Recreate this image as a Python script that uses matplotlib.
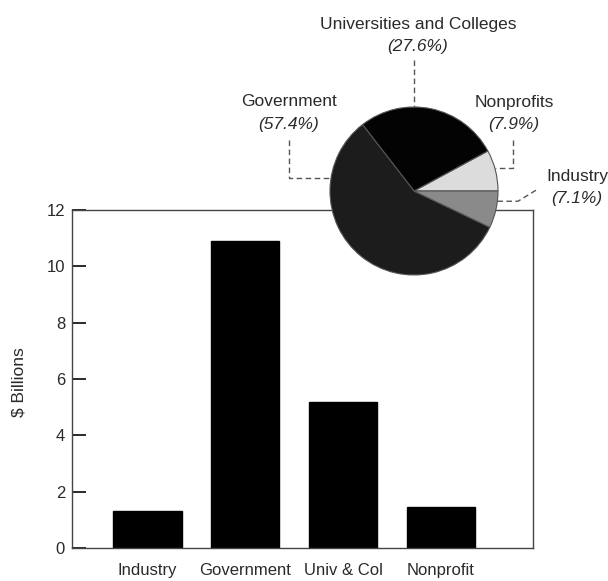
import matplotlib.pyplot as plt
import numpy as np

plt.rcParams["font.family"] = ["Liberation Sans", "DejaVu Sans"]

# R&D spending by performer ($ billions)
sectors = ["Industry", "Government", "Univ & Col", "Nonprofit"]
spending = [1.3, 10.9, 5.2, 1.45]

# share of the total, drawn counter-clockwise from 3 o'clock
pie_names = ["Nonprofits", "Universities and Colleges", "Government", "Industry"]
pie_shares = [7.9, 27.6, 57.4, 7.1]
pie_colors = ["#dcdcdc", "#030303", "#1c1c1c", "#8a8a8a"]

W, H = 608, 581
fig = plt.figure(figsize=(W / 100, H / 100), dpi=100)
ink = "#2a2a2a"

# --- bar chart ---
ax = fig.add_axes([72 / W, 1 - 548 / H, (533 - 72) / W, (548 - 210) / H])
x = np.arange(len(sectors))
ax.bar(x, spending, width=0.70, color="black", edgecolor="black")
ax.set_xlim(-0.77, 3.94)
ax.set_ylim(0, 12)
ax.set_yticks(range(0, 13, 2))
ax.set_xticks(x)
ax.set_xticklabels(sectors, fontsize=12, color=ink)
ax.tick_params(axis="x", length=0, pad=11)
ax.tick_params(axis="y", direction="in", length=10, width=1.4,
               pad=5, labelsize=12, labelcolor=ink, color=ink)
for s in ax.spines.values():
    s.set_color("#444444")
    s.set_linewidth(1.0)
ax.set_ylabel("$ Billions", fontsize=12.5, color=ink)
ax.yaxis.set_label_coords(-0.098, 0.49)

# --- pie overlay, in pixel coordinates ---
ov = fig.add_axes([0, 0, 1, 1], zorder=5)
ov.patch.set_alpha(0)

cx, cy, r = 414, H - 191, 84
ov.pie(pie_shares, colors=pie_colors, startangle=0, counterclock=True,
       center=(cx, cy), radius=r, frame=True,
       wedgeprops=dict(edgecolor="#555555", linewidth=0.8))
ov.set_xlim(0, W)
ov.set_ylim(0, H)
ov.set_aspect("equal")
ov.axis("off")


def edge(angle):
    a = np.deg2rad(angle)
    return cx + r * np.cos(a), cy + r * np.sin(a)


dash = dict(color="#555555", linewidth=1.0, linestyle=(0, (4, 2.5)))

# label positions in pixels from the top
labels = {
    "Universities and Colleges": (418, 25),
    "Government": (289, 102),
    "Nonprofits": (514, 102),
    "Industry": (577, 176),
}
for name, share in zip(pie_names, pie_shares):
    tx, ty = labels[name]
    ov.text(tx, H - ty, name, ha="center", va="center", fontsize=12.5, color=ink)
    ov.text(tx, H - ty - 22, f"({share}%)", ha="center", va="center",
            fontsize=12.5, color=ink, style="italic")

# leader lines
ux, uy = edge(90)
ov.plot([ux, ux], [H - 60, uy], **dash)
gx, gy = edge(171)
ov.plot([289, 289, gx], [H - 140, gy, gy], **dash)
nx, ny = edge(16)
ov.plot([513, 513, nx], [H - 140, ny, ny], **dash)
ix, iy = edge(-7)
ov.plot([ix, 518, 538], [iy, iy, H - 189], **dash)

fig.savefig("out.png", dpi=100)
